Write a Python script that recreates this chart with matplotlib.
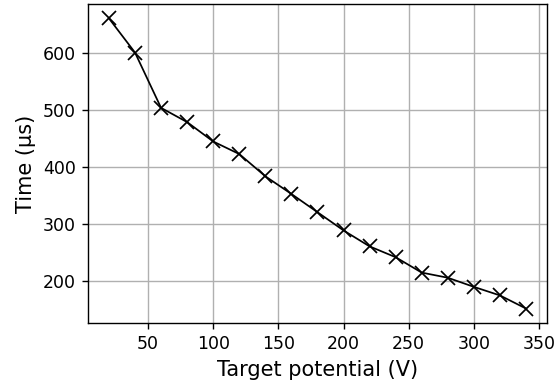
import matplotlib
matplotlib.use("Agg")
import matplotlib.pyplot as plt

potential = [20, 40, 60, 80, 100, 120, 140, 160, 180, 200, 220, 240, 260, 280, 300, 320, 340]
time_us = [660, 600, 503, 478, 444, 422, 383, 352, 320, 288, 260, 241, 214, 205, 189, 174, 151]

DPI = 125
fig, ax = plt.subplots(figsize=(554 / DPI, 385 / DPI), dpi=DPI)
ax.plot(potential, time_us, color="black", marker="x", markersize=7.5,
        markeredgewidth=1.0, linewidth=1.0)
ax.grid(True, color="#b0b0b0", linewidth=0.8)
ax.set_axisbelow(True)
ax.set_xlabel("Target potential (V)", fontsize=12)
ax.set_ylabel("Time (µs)", fontsize=12)
ax.tick_params(labelsize=10)
fig.subplots_adjust(left=0.159, right=0.987, top=0.99, bottom=0.161)
fig.savefig("out.png", dpi=DPI)
